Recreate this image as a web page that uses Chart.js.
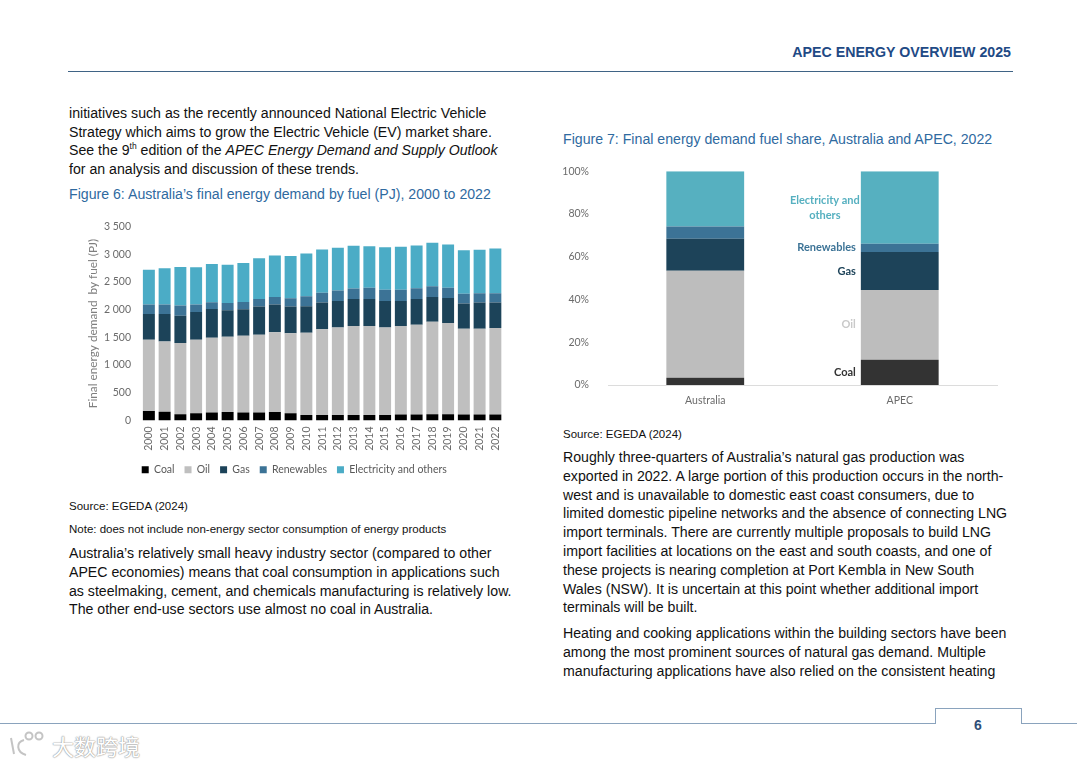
<!DOCTYPE html>
<html>
<head>
<meta charset="utf-8">
<script src="https://cdn.jsdelivr.net/npm/chart.js@4"></script>
<style>
  html, body { margin: 0; padding: 0; background: #fff; }
  body { width: 1080px; height: 764px; position: relative; overflow: hidden; font-family: "Liberation Sans", sans-serif; color: #111; }
  .t { position: absolute; white-space: nowrap; font-size: 14.15px; line-height: 16px; }
  .s { font-size: 11.5px; }
  .fig { color: #2f6a9f; font-size: 14.15px; }
  .rule { position: absolute; background: #8aa3bd; }
  sup { font-size: 8.5px; line-height: 0; }
  .wrap { position: absolute; }
  #mark { position: absolute; left: 52px; top: 733px; font-family: "Noto Sans CJK SC"; font-size: 22px; line-height: 24px; color: #fff;
    text-shadow: 0 0 1px #999, 0 0 1px #999, 0 0 2px #bbb; }
</style>
</head>
<body>
<div class="t" style="right:69px;top:44px;font-weight:bold;font-size:14.2px;color:#1f4a85">APEC ENERGY OVERVIEW 2025</div>
<div class="rule" style="left:68px;top:71px;width:945px;height:1px;background:#3f6385"></div>

<div class="t" style="left:69px;top:105px">initiatives such as the recently announced National Electric Vehicle</div>
<div class="t" style="left:69px;top:124px">Strategy which aims to grow the Electric Vehicle (EV) market share.</div>
<div class="t" style="left:69px;top:142px">See the 9<sup>th</sup> edition of the <i>APEC Energy Demand and Supply Outlook</i></div>
<div class="t" style="left:69px;top:161px">for an analysis and discussion of these trends.</div>
<div class="t fig" style="left:69px;top:186px">Figure 6: Australia’s final energy demand by fuel (PJ), 2000 to 2022</div>

<div class="wrap" style="left:85px;top:215px;width:421px;height:270px"><canvas id="demandChart"></canvas></div>

<div class="t s" style="left:69px;top:498px">Source: EGEDA (2024)</div>
<div class="t s" style="left:69px;top:521px">Note: does not include non-energy sector consumption of energy products</div>
<div class="t" style="left:69px;top:545px">Australia’s relatively small heavy industry sector (compared to other</div>
<div class="t" style="left:69px;top:564px">APEC economies) means that coal consumption in applications such</div>
<div class="t" style="left:69px;top:583px">as steelmaking, cement, and chemicals manufacturing is relatively low.</div>
<div class="t" style="left:69px;top:601px">The other end-use sectors use almost no coal in Australia.</div>

<div class="t fig" style="left:563px;top:131px">Figure 7: Final energy demand fuel share, Australia and APEC, 2022</div>

<div class="wrap" style="left:560px;top:154px;width:445px;height:261px"><canvas id="shareChart"></canvas></div>

<div class="t s" style="left:563px;top:426px">Source: EGEDA (2024)</div>
<div class="t" style="left:563px;top:449px">Roughly three-quarters of Australia’s natural gas production was</div>
<div class="t" style="left:563px;top:468px">exported in 2022. A large portion of this production occurs in the north-</div>
<div class="t" style="left:563px;top:487px">west and is unavailable to domestic east coast consumers, due to</div>
<div class="t" style="left:563px;top:505px">limited domestic pipeline networks and the absence of connecting LNG</div>
<div class="t" style="left:563px;top:524px">import terminals. There are currently multiple proposals to build LNG</div>
<div class="t" style="left:563px;top:543px">import facilities at locations on the east and south coasts, and one of</div>
<div class="t" style="left:563px;top:562px">these projects is nearing completion at Port Kembla in New South</div>
<div class="t" style="left:563px;top:581px">Wales (NSW). It is uncertain at this point whether additional import</div>
<div class="t" style="left:563px;top:599px">terminals will be built.</div>
<div class="t" style="left:563px;top:625px">Heating and cooking applications within the building sectors have been</div>
<div class="t" style="left:563px;top:644px">among the most prominent sources of natural gas demand. Multiple</div>
<div class="t" style="left:563px;top:663px">manufacturing applications have also relied on the consistent heating</div>

<div class="rule" style="left:0;top:723px;width:935px;height:1px"></div>
<div class="rule" style="left:935px;top:708px;width:1px;height:16px"></div>
<div class="rule" style="left:935px;top:708px;width:87px;height:1px"></div>
<div class="rule" style="left:1021px;top:708px;width:1px;height:16px"></div>
<div class="rule" style="left:1021px;top:723px;width:56px;height:1px"></div>
<div class="t" style="left:974px;top:717px;font-weight:bold;font-size:14px;color:#2f4f78">6</div>

<svg style="position:absolute;left:8px;top:730px" width="42" height="28" fill="none" stroke="#c4c4c4" stroke-width="2">
  <path d="M3 8 L6 24 M16 10 C8 12 8 22 18 25"/><circle cx="21" cy="6" r="3.5"/><circle cx="31" cy="6" r="3.5"/>
</svg>
<div id="mark">大数跨境</div>

<script>
const years = ["2000","2001","2002","2003","2004","2005","2006","2007","2008","2009","2010","2011","2012","2013","2014","2015","2016","2017","2018","2019","2020","2021","2022"];
const coal = [170,158,115,133,145,152,145,145,152,133,97,97,97,97,97,97,109,109,115,115,109,109,109];
const oil = [1285,1266,1285,1322,1346,1357,1382,1400,1442,1443,1485,1551,1582,1606,1606,1582,1594,1618,1667,1643,1546,1546,1558];
const gas = [466,497,491,503,521,479,479,510,497,479,479,479,479,491,491,479,455,467,448,454,454,472,460];
const renewables = [170,170,182,133,121,133,133,139,139,151,181,176,187,188,200,200,200,194,194,182,176,170,170];
const electricity = [630,654,697,673,691,691,703,733,746,764,770,782,770,770,751,769,775,770,782,782,788,782,806];

const regions = ["Australia","APEC"];
const coalShare = [3.4,11.8];
const oilShare = [50.1,32.7];
const gasShare = [14.9,17.7];
const renewablesShare = [5.8,3.9];
const electricityShare = [25.8,33.9];

const labelFont = "Lato";
const tickColor = "#6b6b6b";

function fixedAxis(width, height) {
  return scale => {
    if (width) scale.width = width;
    if (height) scale.height = height;
  };
}

new Chart(document.getElementById("demandChart"), {
  type: "bar",
  data: {
    labels: years,
    datasets: [
      { label: "Coal", data: coal, backgroundColor: "#000000" },
      { label: "Oil", data: oil, backgroundColor: "#bfbfbf" },
      { label: "Gas", data: gas, backgroundColor: "#1c4359" },
      { label: "Renewables", data: renewables, backgroundColor: "#3c7396" },
      { label: "Electricity and others", data: electricity, backgroundColor: "#4bacc6" }
    ]
  },
  options: {
    responsive: true,
    maintainAspectRatio: false,
    animation: false,
    layout: { padding: { top: 11.5, right: 2.5 } },
    datasets: { bar: { categoryPercentage: 1, barPercentage: 0.76 } },
    plugins: {
      tooltip: { enabled: false },
      legend: {
        position: "bottom",
        labels: { boxWidth: 7, boxHeight: 7, padding: 10, color: "#595959", font: { family: labelFont, size: 10.5 } }
      }
    },
    scales: {
      x: {
        stacked: true,
        grid: { display: false },
        border: { display: false },
        afterFit: fixedAxis(0, 34),
        ticks: { minRotation: 90, maxRotation: 90, autoSkip: false, color: tickColor, padding: -2, font: { family: labelFont, size: 10.5 } }
      },
      y: {
        stacked: true,
        min: 0,
        max: 3500,
        grid: { display: false },
        border: { display: false },
        afterFit: fixedAxis(56, 0),
        title: { display: true, text: "Final energy demand  by fuel (PJ)", color: "#7f7f7f", padding: { top: 1, bottom: 0 }, font: { family: labelFont, size: 11.8 } },
        ticks: {
          stepSize: 500,
          padding: 2,
          color: tickColor,
          font: { family: labelFont, size: 10.5 },
          callback: v => String(v).replace(/\B(?=(\d{3})+$)/g, " ")
        }
      }
    }
  }
});

// names next to the APEC bar, at the middle of each segment
const sideLabels = {
  id: "sideLabels",
  afterDatasetsDraw(chart) {
    const ctx = chart.ctx;
    ctx.save();
    ctx.font = "bold 11px " + labelFont;
    ctx.textBaseline = "middle";
    chart.data.datasets.forEach((ds, i) => {
      const bar = chart.getDatasetMeta(i).data[1];
      const mid = (bar.y + bar.base) / 2;
      const left = bar.x - bar.width / 2;
      ctx.fillStyle = ds.labelColor;
      if (ds.label === "Electricity and others") {
        ctx.textAlign = "center";
        ctx.fillText("Electricity and", left - 36, mid - 7);
        ctx.fillText("others", left - 36, mid + 8);
      } else {
        ctx.textAlign = "right";
        ctx.fillText(ds.label, left - 5, mid);
      }
    });
    ctx.restore();
  }
};

new Chart(document.getElementById("shareChart"), {
  type: "bar",
  data: {
    labels: regions,
    datasets: [
      { label: "Coal", data: coalShare, backgroundColor: "#333333", labelColor: "#333333" },
      { label: "Oil", data: oilShare, backgroundColor: "#bdbdbd", labelColor: "#c9c9c9" },
      { label: "Gas", data: gasShare, backgroundColor: "#1d4359", labelColor: "#1d4359" },
      { label: "Renewables", data: renewablesShare, backgroundColor: "#3c7396", labelColor: "#3c7396" },
      { label: "Electricity and others", data: electricityShare, backgroundColor: "#56b0c0", labelColor: "#56b0c0" }
    ]
  },
  plugins: [sideLabels],
  options: {
    responsive: true,
    maintainAspectRatio: false,
    animation: false,
    layout: { padding: { right: 8 } },
    datasets: { bar: { categoryPercentage: 1, barPercentage: 0.4 } },
    plugins: { tooltip: { enabled: false }, legend: { display: false } },
    scales: {
      x: {
        stacked: true,
        grid: { display: false },
        border: { color: "#dcdcdc" },
        afterFit: fixedAxis(0, 30),
        ticks: { color: tickColor, padding: 1, font: { family: labelFont, size: 10.5 } }
      },
      y: {
        stacked: true,
        min: 0,
        max: 100,
        grid: { display: false },
        border: { display: false },
        afterFit: fixedAxis(48, 0),
        ticks: { stepSize: 20, padding: 11, color: tickColor, font: { family: labelFont, size: 10.5 }, callback: v => v + "%" }
      }
    }
  }
});
</script>
</body>
</html>
